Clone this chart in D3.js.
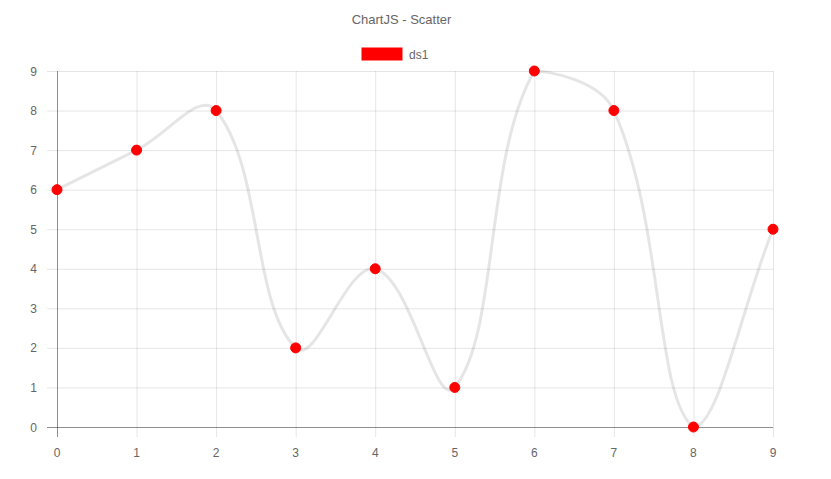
<!DOCTYPE html>
<html><head><meta charset="utf-8">
<script src="https://cdn.jsdelivr.net/npm/d3@7"></script>
<style>html,body{margin:0;padding:0;background:#fff;}svg{display:block;}</style>
</head><body>
<svg id="c" width="831" height="479"></svg>
<script>
const title = "ChartJS - Scatter";
const seriesName = "ds1";
const xValues = [0,1,2,3,4,5,6,7,8,9];
const yValues = [6,7,8,2,4,1,9,8,0,5];
const xTicks = [0,1,2,3,4,5,6,7,8,9];
const yTicks = [0,1,2,3,4,5,6,7,8,9];

const svg = d3.select("#c");
const font = "'Liberation Sans', Arial, Helvetica, sans-serif";
const L = 57, R = 773, T = 71, B = 427;
const x = d3.scaleLinear().domain([0,9]).range([L,R]);
const y = d3.scaleLinear().domain([0,9]).range([B,T]);

svg.append("text").attr("x",401.5).attr("y",24).attr("text-anchor","middle")
  .attr("font-family",font).attr("font-size",13).attr("fill","#666").text(title);

// legend
svg.append("rect").attr("x",362).attr("y",48).attr("width",40).attr("height",12)
  .attr("fill","red").attr("stroke","red").attr("stroke-width",1);
svg.append("text").attr("x",409).attr("y",58.5).attr("font-family",font)
  .attr("font-size",12).attr("fill","#666").text(seriesName);

// grid
const g = svg.append("g");
yTicks.forEach(t=>{
  g.append("line").attr("x1",L-10).attr("x2",R).attr("y1",y(t)+0.5).attr("y2",y(t)+0.5)
   .attr("stroke", t===0 ? "rgba(0,0,0,0.25)" : "rgba(0,0,0,0.1)").attr("stroke-width",1);
});
xTicks.forEach(t=>{
  g.append("line").attr("y1",T).attr("y2",B+10).attr("x1",x(t)+0.5).attr("x2",x(t)+0.5)
   .attr("stroke", t===0 ? "rgba(0,0,0,0.25)" : "rgba(0,0,0,0.1)").attr("stroke-width",1);
});
g.append("line").attr("x1",L-10).attr("x2",R).attr("y1",y(0)+0.5).attr("y2",y(0)+0.5)
  .attr("stroke","rgba(0,0,0,0.25)");
g.append("line").attr("y1",T).attr("y2",B+10).attr("x1",x(0)+0.5).attr("x2",x(0)+0.5)
  .attr("stroke","rgba(0,0,0,0.25)");

// tick labels
yTicks.forEach(t=>{
  svg.append("text").attr("x",L-20).attr("y",y(t)+4.5).attr("text-anchor","end")
   .attr("font-family",font).attr("font-size",12).attr("fill","#666").text(t);
});
xTicks.forEach(t=>{
  svg.append("text").attr("x",x(t)).attr("y",B+30).attr("text-anchor","middle")
   .attr("font-family",font).attr("font-size",12).attr("fill","#666").text(t);
});

// Chart.js style spline (tension 0.4), capped to chart area
const pts = xValues.map((v,i)=>({x:x(v), y:y(yValues[i])}));
const tension = 0.4;
pts.forEach((p,i)=>{
  const prev = pts[i-1] || p, next = pts[i+1] || p;
  const d01 = Math.hypot(p.x-prev.x, p.y-prev.y);
  const d12 = Math.hypot(next.x-p.x, next.y-p.y);
  let s01 = d01/(d01+d12), s12 = d12/(d01+d12);
  if (isNaN(s01)) s01 = 0; if (isNaN(s12)) s12 = 0;
  const fa = tension*s01, fb = tension*s12;
  p.cpPx = p.x - fa*(next.x-prev.x); p.cpPy = p.y - fa*(next.y-prev.y);
  p.cpNx = p.x + fb*(next.x-prev.x); p.cpNy = p.y + fb*(next.y-prev.y);
  const cap=(v,lo,hi)=>Math.max(lo,Math.min(hi,v));
  p.cpPx=cap(p.cpPx,L,R); p.cpNx=cap(p.cpNx,L,R);
  p.cpPy=cap(p.cpPy,T,B); p.cpNy=cap(p.cpNy,T,B);
});
const path = d3.path();
path.moveTo(pts[0].x, pts[0].y);
for (let i=1;i<pts.length;i++){
  const a=pts[i-1], b=pts[i];
  path.bezierCurveTo(a.cpNx,a.cpNy,b.cpPx,b.cpPy,b.x,b.y);
}
svg.append("path").attr("d",path.toString()).attr("fill","none")
  .attr("stroke","rgba(0,0,0,0.1)").attr("stroke-width",3);

svg.append("g").selectAll("circle").data(xValues).join("circle")
  .attr("cx",(d)=>x(d)).attr("cy",(d,i)=>y(yValues[i])).attr("r",5)
  .attr("fill","red").attr("stroke","red").attr("stroke-width",1);
</script>
</body></html>
